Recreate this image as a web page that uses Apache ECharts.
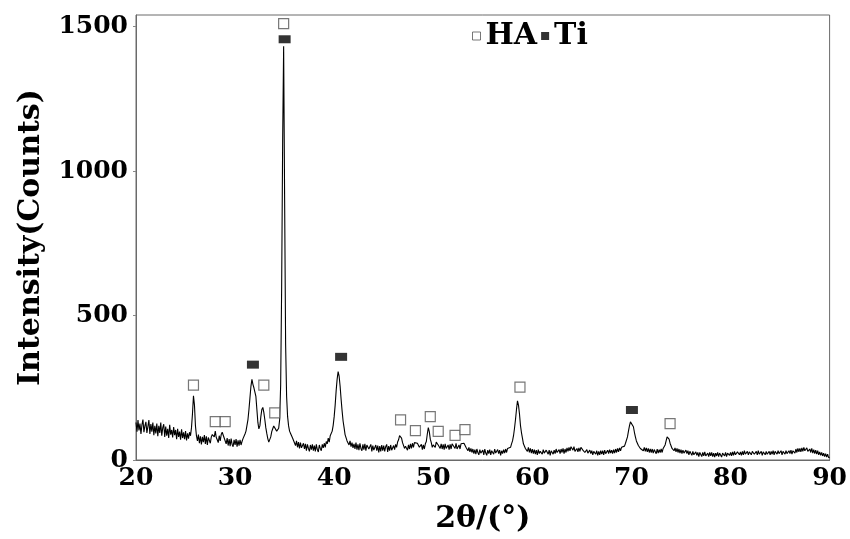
<!DOCTYPE html>
<html>
<head>
<meta charset="utf-8">
<script src="https://cdn.jsdelivr.net/npm/echarts@6/dist/echarts.min.js"></script>
<style>
html,body{margin:0;padding:0;background:#fff;}
#chart{width:850px;height:539px;}
</style>
</head>
<body>
<div id="chart"></div>
<script>
// XRD pattern: 2θ from 20° to 90°, step 0.1°
var startAngle = 20;
var stepAngle = 0.1;
var counts = [
  130,98,138,102,126,90,122,140,96,118,
  132,94,116,138,90,124,98,130,86,118,
  92,126,82,118,94,130,84,112,124,80,
  116,84,108,76,122,88,104,78,114,86,
  104,72,108,80,98,70,106,76,96,72,
  100,68,92,74,96,84,112,160,222,190,
  118,84,66,88,58,82,54,80,62,86,
  56,82,52,78,84,58,80,88,94,80,
  100,78,70,60,84,66,88,96,98,76,
  78,56,76,50,72,48,74,54,46,70,
  52,72,46,68,50,70,52,64,74,72,
  90,100,120,140,175,215,255,279,262,250,
  252,220,175,130,108,118,150,175,182,165,
  140,112,92,74,62,68,80,98,108,118,
  122,112,100,98,110,140,260,600,1100,1432,
  900,400,220,150,118,100,92,84,76,72,
  72,50,66,44,62,40,60,42,36,58,
  38,56,32,54,40,30,52,36,54,32,
  50,30,54,36,28,52,40,32,54,42,
  58,44,64,56,76,62,84,78,100,120,
  150,190,240,280,306,290,255,210,170,135,
  112,88,86,66,70,52,66,46,60,42,
  56,38,60,36,54,34,58,40,32,54,
  36,56,32,52,58,38,32,54,30,50,
  34,28,52,32,50,26,48,30,52,32,
  50,30,46,54,28,48,32,52,34,30,
  50,36,54,44,62,70,84,88,76,60,
  58,40,48,54,34,52,38,56,40,58,
  44,60,64,54,58,62,44,50,54,36,
  52,38,56,64,90,112,98,72,60,44,
  52,48,44,62,66,52,56,40,56,38,
  54,36,56,40,34,52,36,54,38,56,
  50,56,40,58,38,34,52,38,56,52,
  62,58,60,44,48,32,44,28,40,26,
  38,22,36,20,38,26,18,36,24,20,
  34,18,38,24,16,34,22,36,18,32,
  36,20,38,24,18,36,22,34,16,32,
  22,36,24,38,26,40,36,42,44,56,
  66,84,110,140,175,205,190,160,120,95,
  76,56,56,40,44,30,44,26,40,24,
  38,22,36,20,34,18,36,22,30,34,
  20,36,24,18,34,38,20,34,16,32,
  36,20,34,22,38,26,20,36,22,38,
  26,40,22,38,26,42,30,44,32,46,
  48,34,46,30,26,40,28,42,30,44,
  48,34,38,26,22,36,24,20,34,22,
  32,18,30,34,20,32,16,30,18,32,
  20,32,18,34,22,20,34,22,36,24,
  34,22,36,24,38,26,40,28,42,32,
  44,40,46,48,58,64,80,100,118,132,
  136,130,115,96,80,66,60,50,48,40,
  44,40,32,44,30,42,28,40,26,38,
  26,38,24,36,34,22,38,24,36,26,
  38,26,40,38,52,66,80,85,72,58,
  54,40,44,32,42,28,40,26,38,24,
  36,22,34,24,20,34,22,32,18,30,
  28,16,30,18,14,28,16,26,12,26,
  24,12,26,14,28,14,10,24,12,26,
  14,26,12,24,10,24,14,26,12,24,
  22,10,24,28,14,26,12,24,28,16,
  26,14,28,16,30,18,14,28,32,18,
  28,16,30,18,32,20,16,30,18,28,
  32,18,30,34,20,16,30,18,32,20,
  18,30,16,28,32,18,30,20,16,30,
  18,30,20,32,18,30,34,20,32,22,
  20,32,18,30,34,20,32,22,18,32,
  22,34,20,32,36,24,38,26,40,28,
  40,28,42,30,44,32,28,42,30,26,
  38,26,40,24,36,22,34,20,32,18,
  28,16,26,14,24,12,22,10,20,8,
  10
];
// Phase markers (2θ, height of marker)
var haAngles  = [25.8, 28.0, 29.0, 32.9, 34.0, 34.9, 46.7, 48.2, 49.7, 50.5, 52.2, 53.2, 58.75, 73.9];
var haHeights = [259, 133, 133, 259, 163, 1510, 139, 102, 150, 99, 85, 105, 252, 126];
var tiAngles  = [31.8, 35.0, 40.7, 70.05];
var tiHeights = [330, 1456, 357, 173];

var xTicks = [20, 30, 40, 50, 60, 70, 80, 90];
var yTicks = [0, 500, 1000, 1500];

var lineData = counts.map(function (c, i) {
  return [+(startAngle + stepAngle * i).toFixed(2), c];
});
var haData = haAngles.map(function (a, i) { return [a, haHeights[i]]; });
var tiData = tiAngles.map(function (a, i) { return [a, tiHeights[i]]; });

var FONT = 'DejaVu Serif';
var chart = echarts.init(document.getElementById('chart'), null, {renderer: 'canvas'});
chart.setOption({
  animation: false,
  backgroundColor: '#fff',
  grid: {left: 136, right: 18, top: 15, bottom: 70, show: true, borderColor: '#6a6a6a', borderWidth: 1},
  legend: {
    data: [
      {name: 'HA', icon: 'rect', itemStyle: {color: '#fff', borderColor: '#555', borderWidth: 1}},
      {name: 'Ti', icon: 'rect', itemStyle: {color: '#000'}}
    ],
    left: 467, top: 16,
    itemWidth: 8, itemHeight: 8, itemGap: 4,
    textStyle: {fontFamily: FONT, fontWeight: 'bold', fontSize: 30, color: '#000'}
  },
  xAxis: {
    type: 'value', min: xTicks[0], max: xTicks[xTicks.length - 1], interval: 10,
    name: '2θ/(°)', nameLocation: 'middle', nameGap: 44,
    nameTextStyle: {fontFamily: FONT, fontWeight: 'bold', fontSize: 30, color: '#000'},
    axisLine: {lineStyle: {color: '#6a6a6a', width: 1}},
    axisTick: {show: false},
    splitLine: {show: false},
    axisLabel: {fontFamily: FONT, fontWeight: 'bold', fontSize: 25, color: '#000', margin: 6}
  },
  yAxis: {
    type: 'value', min: yTicks[0], max: 1540, interval: 500,
    name: 'Intensity(Counts)', nameLocation: 'middle', nameGap: 90,
    nameTextStyle: {fontFamily: FONT, fontWeight: 'bold', fontSize: 30, color: '#000'},
    axisLine: {show: true, lineStyle: {color: '#6a6a6a', width: 1}},
    axisTick: {show: true, length: 3, lineStyle: {color: '#888'}},
    splitLine: {show: false},
    axisLabel: {fontFamily: FONT, fontWeight: 'bold', fontSize: 25, color: '#000', margin: 8,
      showMaxLabel: false,
      formatter: function (v) { return yTicks.indexOf(v) >= 0 ? String(v) : ''; }}
  },
  series: [
    {
      name: 'pattern', type: 'line', data: lineData, showSymbol: false, symbol: 'none',
      lineStyle: {color: '#000', width: 1.1}, z: 2, silent: true
    },
    {
      name: 'HA', type: 'scatter', data: haData, symbol: 'rect', symbolSize: [10, 10],
      itemStyle: {color: '#fff', borderColor: '#555', borderWidth: 1.2}, z: 3
    },
    {
      name: 'Ti', type: 'scatter', data: tiData, symbol: 'rect', symbolSize: [12, 8],
      itemStyle: {color: '#000'}, z: 3
    }
  ]
});
</script>
</body>
</html>
